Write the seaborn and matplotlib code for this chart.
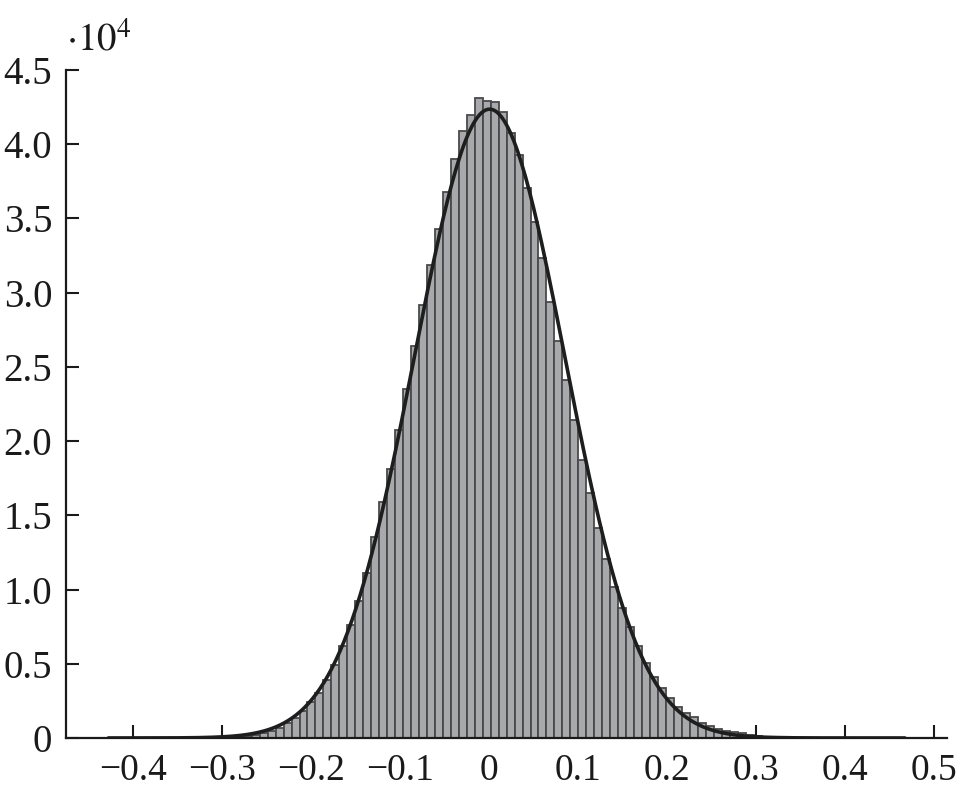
import numpy as np
import pandas as pd
import matplotlib
matplotlib.use("Agg")
import matplotlib.pyplot as plt
import seaborn as sns

# data range of the samples and number of bins (histfit style)
data_min = -0.428
data_max = 0.467
n_bins = 100

# bar heights in units of 10^4 (left to right)
bar_heights = [
    0.0001, 0.0001, 0.0001, 0.0002, 0.0002, 0.0003, 0.0004, 0.0006, 0.0008, 0.0011,
    0.0015, 0.0022, 0.0032, 0.0045, 0.0065, 0.009, 0.012, 0.015, 0.020, 0.031,
    0.047, 0.068, 0.100, 0.135, 0.180, 0.240, 0.305, 0.390, 0.495, 0.620,
    0.760, 0.925, 1.110, 1.352, 1.592, 1.810, 2.075, 2.350, 2.642, 2.918,
    3.187, 3.430, 3.677, 3.902, 4.086, 4.194, 4.311, 4.288, 4.285, 4.216,
    4.075, 3.929, 3.704, 3.475, 3.232, 2.940, 2.675, 2.412, 2.140, 1.873,
    1.649, 1.417, 1.204, 1.020, 0.878, 0.750, 0.620, 0.503, 0.413, 0.335,
    0.267, 0.211, 0.166, 0.139, 0.103, 0.081, 0.061, 0.049, 0.040, 0.031,
    0.020, 0.013, 0.008, 0.005, 0.0035, 0.0025, 0.0018, 0.0013, 0.0010, 0.0008,
    0.0006, 0.0005, 0.0004, 0.0003, 0.0002, 0.0002, 0.0001, 0.0001, 0.0001, 0.0001,
]

x_ticks = [-0.4, -0.3, -0.2, -0.1, 0, 0.1, 0.2, 0.3, 0.4, 0.5]
x_tick_labels = ["\u22120.4", "\u22120.3", "\u22120.2", "\u22120.1", "0",
                 "0.1", "0.2", "0.3", "0.4", "0.5"]
y_ticks = [0, 0.5, 1.0, 1.5, 2.0, 2.5, 3.0, 3.5, 4.0, 4.5]
y_tick_labels = ["0", "0.5", "1.0", "1.5", "2.0", "2.5", "3.0", "3.5", "4.0", "4.5"]

sns.set_style("ticks")
plt.rcParams['font.family'] = ['Liberation Serif', 'DejaVu Serif']
plt.rcParams['mathtext.fontset'] = 'stix'

edges = np.linspace(data_min, data_max, n_bins + 1)
centers = (edges[:-1] + edges[1:]) / 2
heights = np.array(bar_heights)
df = pd.DataFrame({'value': centers, 'count': heights})

# normal fit from the binned data
mu = np.average(centers, weights=heights)
sd = np.sqrt(np.average((centers - mu) ** 2, weights=heights))
bw = edges[1] - edges[0]
xs = np.linspace(data_min, data_max, 400)
fit = heights.sum() * bw / (sd * np.sqrt(2 * np.pi)) * np.exp(-(xs - mu) ** 2 / (2 * sd ** 2))

fig = plt.figure(figsize=(9.59, 7.98), dpi=100)
ax = fig.add_axes([0.0688, 0.0752, 0.9184, 0.8371])

sns.histplot(data=df, x='value', weights='count', bins=list(edges), ax=ax,
             color='#a8a9ac', edgecolor='#4a4a4a', linewidth=1.3, alpha=1)
sns.lineplot(x=xs, y=fit, ax=ax, color='#1e1e1e', linewidth=2.6)

ax.set_xlim(-0.4756, 0.514)
ax.set_ylim(0, 4.5)
ax.set_xticks(x_ticks)
ax.set_xticklabels(x_tick_labels)
ax.set_yticks(y_ticks)
ax.set_yticklabels(y_tick_labels)
ax.set_xlabel('')
ax.set_ylabel('')
ax.tick_params(direction='in', length=9.5, width=1.5, colors='#1a1a1a')
ax.tick_params(axis='x', labelsize=27, pad=11)
ax.tick_params(axis='y', labelsize=28, pad=10)
sns.despine(ax=ax)
for s in ['left', 'bottom']:
    ax.spines[s].set_linewidth(1.6)
    ax.spines[s].set_color('#1a1a1a')

fig.text(66 / 959, 1 - 50 / 798, r'$\cdot 10^{4}$', fontsize=28, color='#1a1a1a',
         ha='left', va='baseline')

fig.savefig('out.png', dpi=100)
